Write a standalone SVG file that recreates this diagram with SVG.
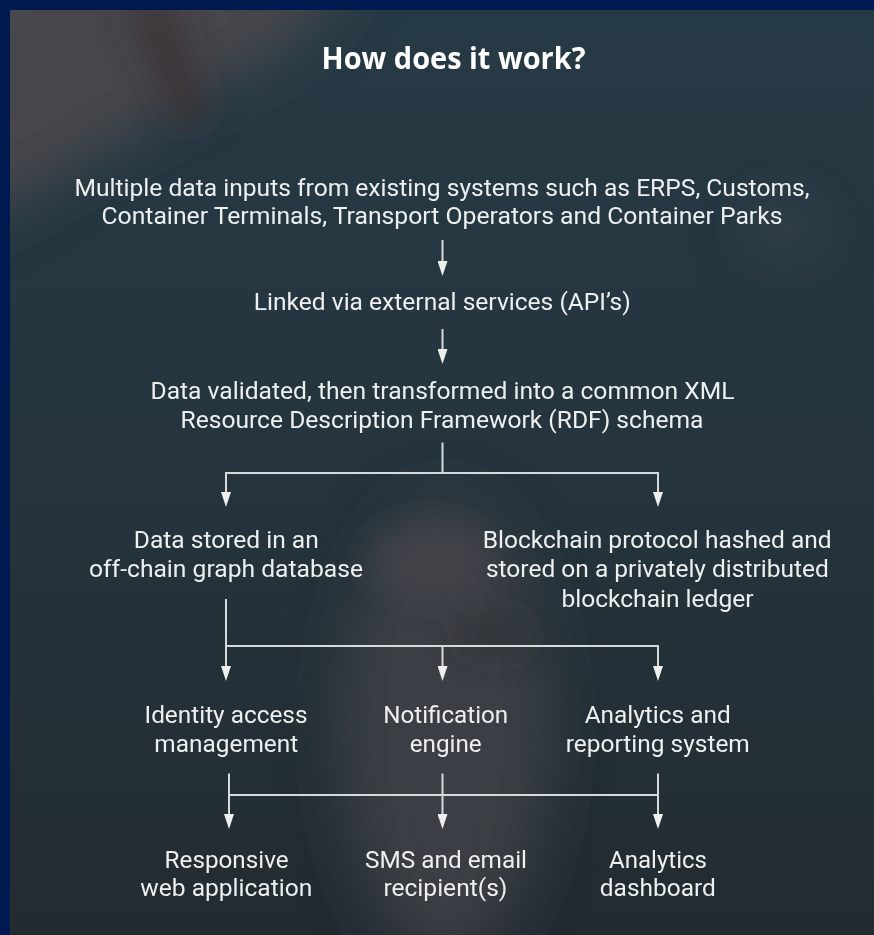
<svg xmlns="http://www.w3.org/2000/svg" width="874" height="935" viewBox="0 0 874 935">
  <defs>
    <style>
      .t { font-family: Roboto, "Liberation Sans", sans-serif; font-size: 24px; fill: #eef0f0; text-anchor: middle; }
      .title { font-family: "Open Sans", "Liberation Sans", sans-serif; font-weight: 700; font-size: 30px; fill: #ffffff; text-anchor: middle; }
      .c { fill: none; stroke: #d6dada; stroke-width: 2; }
    </style>
    <linearGradient id="bg" x1="0" y1="0" x2="0" y2="1">
      <stop offset="0" stop-color="#263a45"/>
      <stop offset="0.5" stop-color="#25343d"/>
      <stop offset="1" stop-color="#232b31"/>
    </linearGradient>
    <filter id="blur" x="-50%" y="-50%" width="200%" height="200%">
      <feGaussianBlur stdDeviation="28"/>
    </filter>
    <filter id="blur2" x="-50%" y="-50%" width="200%" height="200%">
      <feGaussianBlur stdDeviation="16"/>
    </filter>
    <marker id="ah" viewBox="0 0 15 10" refX="7" refY="5" markerWidth="15" markerHeight="10" markerUnits="userSpaceOnUse" orient="auto">
      <path d="M0,0 L15,5 L0,10 Z" fill="#eef0f0"/>
    </marker>
    <clipPath id="panel"><rect x="10" y="10" width="864" height="925"/></clipPath>
  </defs>

  <!-- frame and blurred background -->
  <rect x="0" y="0" width="874" height="935" fill="#001a50"/>
  <g clip-path="url(#panel)">
    <rect x="10" y="10" width="864" height="925" fill="url(#bg)"/>
    <g filter="url(#blur)">
      <path d="M-40,-40 L360,-40 L300,40 L-40,230 Z" fill="#46464b"/>
      <ellipse cx="785" cy="228" rx="35" ry="20" fill="#3a4750"/>
      <ellipse cx="445" cy="730" rx="105" ry="230" fill="#3f4045" opacity="0.9"/>
    </g>
    <g filter="url(#blur2)">
      <path d="M125,0 L170,0 L210,115 L175,125 Z" fill="#3c2e33" opacity="0.8"/>
      <ellipse cx="495" cy="635" rx="35" ry="18" fill="#2d2f33" opacity="0.8"/>
      <ellipse cx="430" cy="560" rx="60" ry="35" fill="#46474c" opacity="0.7"/>
    </g>
  </g>

  <g id="title"><text class="title" x="453.5" y="68.5" textLength="264" lengthAdjust="spacingAndGlyphs">How does it work?</text></g>

  <g id="inputs">
    <text class="t" x="442" y="195.5" textLength="735" lengthAdjust="spacingAndGlyphs">Multiple data inputs from existing systems such as ERPS, Customs,</text>
    <text class="t" x="442" y="223.5" textLength="681" lengthAdjust="spacingAndGlyphs">Container Terminals, Transport Operators and Container Parks</text>
  </g>
  <g id="linked">
    <text class="t" x="442.3" y="310" textLength="377" lengthAdjust="spacingAndGlyphs">Linked via external services (API’s)</text>
  </g>
  <g id="validated">
    <text class="t" x="442.5" y="398.5" textLength="584" lengthAdjust="spacingAndGlyphs">Data validated, then transformed into a common XML</text>
    <text class="t" x="442" y="427.5" textLength="523" lengthAdjust="spacingAndGlyphs">Resource Description Framework (RDF) schema</text>
  </g>
  <g id="offchain">
    <text class="t" x="226.3" y="547.5" textLength="185" lengthAdjust="spacingAndGlyphs">Data stored in an</text>
    <text class="t" x="226" y="576.5" textLength="274" lengthAdjust="spacingAndGlyphs">off-chain graph database</text>
  </g>
  <g id="blockchain">
    <text class="t" x="657.2" y="547.5" textLength="349" lengthAdjust="spacingAndGlyphs">Blockchain protocol hashed and</text>
    <text class="t" x="657.4" y="576.5" textLength="343" lengthAdjust="spacingAndGlyphs">stored on a privately distributed</text>
    <text class="t" x="657.5" y="606.5" textLength="192" lengthAdjust="spacingAndGlyphs">blockchain ledger</text>
  </g>
  <g id="identity">
    <text class="t" x="226" y="722.5" textLength="163" lengthAdjust="spacingAndGlyphs">Identity access</text>
    <text class="t" x="226.3" y="752" textLength="144" lengthAdjust="spacingAndGlyphs">management</text>
  </g>
  <g id="notification">
    <text class="t" x="445.7" y="722.5" textLength="125" lengthAdjust="spacingAndGlyphs">Notification</text>
    <text class="t" x="445.7" y="752" textLength="72" lengthAdjust="spacingAndGlyphs">engine</text>
  </g>
  <g id="analytics">
    <text class="t" x="657.7" y="722.5" textLength="146" lengthAdjust="spacingAndGlyphs">Analytics and</text>
    <text class="t" x="657.8" y="752" textLength="184" lengthAdjust="spacingAndGlyphs">reporting system</text>
  </g>
  <g id="webapp">
    <text class="t" x="226.6" y="867.5" textLength="124" lengthAdjust="spacingAndGlyphs">Responsive</text>
    <text class="t" x="226.3" y="896.3" textLength="172" lengthAdjust="spacingAndGlyphs">web application</text>
  </g>
  <g id="sms">
    <text class="t" x="446" y="867.5" textLength="162" lengthAdjust="spacingAndGlyphs">SMS and email</text>
    <text class="t" x="445.4" y="896.3" textLength="124" lengthAdjust="spacingAndGlyphs">recipient(s)</text>
  </g>
  <g id="dashboard">
    <text class="t" x="658" y="867.5" textLength="98" lengthAdjust="spacingAndGlyphs">Analytics</text>
    <text class="t" x="657.8" y="896.3" textLength="116" lengthAdjust="spacingAndGlyphs">dashboard</text>
  </g>

  <g id="connectors" class="c">
    <path d="M442.5,240 V268" marker-end="url(#ah)"/>
    <path d="M442.5,329 V356" marker-end="url(#ah)"/>
    <path d="M442.5,442.5 V473"/>
    <path d="M226,473 H658"/>
    <path d="M226,472 V499" marker-end="url(#ah)"/>
    <path d="M658,472 V499" marker-end="url(#ah)"/>
    <path d="M226,599 V673" marker-end="url(#ah)"/>
    <path d="M226,646 H658 V673" marker-end="url(#ah)"/>
    <path d="M442.5,646 V673" marker-end="url(#ah)"/>
    <path d="M229,773.5 V821" marker-end="url(#ah)"/>
    <path d="M442.5,773.5 V821" marker-end="url(#ah)"/>
    <path d="M658,773.5 V821" marker-end="url(#ah)"/>
    <path d="M229,795 H658"/>
  </g>
</svg>
